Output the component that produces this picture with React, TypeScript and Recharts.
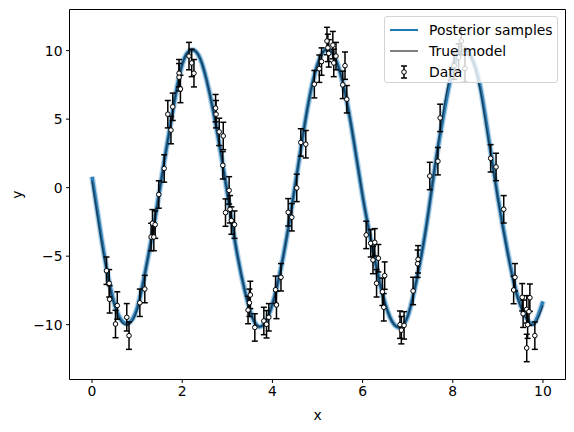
import React from "react";
import {
    ComposedChart,
    Line,
    Scatter,
    ErrorBar,
    XAxis,
    YAxis,
} from "recharts";

// curve grid (x) and the two model curves
const gridX = [
    0, 0.2, 0.4, 0.6, 0.8, 1, 1.2, 1.4, 1.6, 1.8, 2, 2.2, 2.4, 2.6, 2.8, 3, 3.2,
    3.4, 3.6, 3.8, 4, 4.2, 4.4, 4.6, 4.8, 5, 5.2, 5.4, 5.6, 5.8, 6, 6.2, 6.4,
    6.6, 6.8, 7, 7.2, 7.4, 7.6, 7.8, 8, 8.2, 8.4, 8.6, 8.8, 9, 9.2, 9.4, 9.6,
    9.8, 10,
];
const posteriorY = [
    0.8, -3.5, -7.2, -9.4, -9.9, -8.8, -5.8, -2.2, 1.9, 5.8, 9.0, 10.05, 9.4,
    7.0, 3.6, -0.4, -4.5, -7.7, -9.8, -10.0, -8.5, -5.7, -2.0, 2.2, 6.2, 9.0,
    10.1, 9.4, 7.1, 3.5, -0.6, -4.1, -7.2, -9.4, -10.2, -9.4, -6.7, -3.1, 1.4,
    5.4, 8.6, 9.95, 9.6, 7.5, 3.5, -0.7, -4.4, -7.5, -9.3, -9.9, -8.3,
];
const trueY = [
    0.5, -3.7, -7.3, -9.5, -10.0, -8.9, -5.8, -2.2, 1.9, 5.8, 9.0, 10.05, 9.4,
    7.0, 3.6, -0.4, -4.5, -7.7, -9.8, -10.0, -8.5, -5.7, -2.0, 2.2, 6.2, 9.0,
    10.1, 9.4, 7.1, 3.5, -0.6, -4.1, -7.2, -9.4, -10.2, -9.4, -6.7, -3.1, 1.5,
    5.7, 9.1, 10.35, 9.6, 7.3, 3.3, -0.8, -4.5, -7.6, -9.4, -10.0, -8.6,
];

// observations
const dataX = [
    0.32, 0.38, 0.39, 0.52, 0.56, 0.77, 0.82, 1.06, 1.17, 1.31, 1.34, 1.37, 1.4,
    1.48, 1.6, 1.68, 1.75, 1.79, 1.93, 1.93, 1.96, 2.15, 2.21, 2.26, 2.74, 2.75,
    2.82, 2.9, 2.91, 2.96, 3.04, 3.06, 3.09, 3.16, 3.46, 3.49, 3.51, 3.61, 3.81,
    3.87, 3.92, 4.07, 4.09, 4.19, 4.35, 4.43, 4.54, 4.63, 4.74, 4.93, 5.04, 5.09,
    5.21, 5.23, 5.25, 5.34, 5.36, 5.41, 5.56, 5.61, 5.65, 6.08, 6.18, 6.23, 6.27,
    6.31, 6.35, 6.44, 6.47, 6.49, 6.83, 6.86, 6.92, 7.12, 7.22, 7.23, 7.49, 7.67,
    7.72, 8.03, 8.13, 8.19, 8.27, 8.84, 8.96, 9.13, 9.35, 9.38, 9.54, 9.56, 9.64,
    9.64, 9.66, 9.69, 9.71, 9.82,
];
const dataY = [
    -6.06, -6.98, -8.15, -9.95, -8.6, -9.46, -10.8, -8.4, -7.4, -3.6, -2.6, -3.6,
    -2.7, -0.5, 1.4, 5.36, 4.2, 5.9, 8.35, 8.06, 7.2, 9.6, 9.1, 8.35, 5.8, 5.36,
    4.07, 1.63, 3.77, -1.82, -0.2, -1.58, -2.4, -2.7, -8.93, -8.4, -7.83, -10.2,
    -9.73, -9.97, -9.46, -7.45, -8.56, -6.54, -1.8, -2.16, -0.02, 3.3, 3.17, 7.55,
    8.68, 9.2, 10.7, 10.2, 9.8, 10.4, 9.1, 9.6, 7.5, 8.9, 6.45, -3.45, -4.06,
    -5.28, -3.99, -6.98, -5.15, -7.6, -8.73, -6.42, -10.0, -10.4, -10.05, -7.54,
    -5.55, -5.23, 0.85, 1.93, 5.09, 8.9, 9.5, 10.7, 8.7, 2.14, 1.51, -1.58,
    -7.47, -6.54, -8.0, -9.2, -8.88, -11.7, -10.0, -9.05, -8.03, -10.8,
];
const dataErr = 1.0;

const xTicks = [0, 2, 4, 6, 8, 10];
const yTicks = [-10, -5, 0, 5, 10];
const legendItems = ["Posterior samples", "True model", "Data"];

const posterior = gridX.map((x, i) => ({ x, y: posteriorY[i] }));
const truth = gridX.map((x, i) => ({ x, y: trueY[i] }));
const observed = dataX.map((x, i) => ({ x, y: dataY[i], err: dataErr }));

const FONT = "'DejaVu Sans', sans-serif";
const BLUE = "#1f77b4";
const X_DOMAIN: [number, number] = [-0.5, 10.5];
const Y_DOMAIN: [number, number] = [-14, 13];
const tickStyle = { fill: "#000", fontSize: 13.9, fontFamily: FONT };
const fmt = (v: number) => String(v).replace("-", "\u2212");

const Dot = (props: any) => (
    <circle cx={props.cx} cy={props.cy} r={2.3} fill="#fff" stroke="#000" strokeWidth={1} />
);

const LegendBox = () => (
    <div
        style={{
            position: "absolute",
            left: 384,
            top: 16,
            width: 174,
            height: 67,
            boxSizing: "border-box",
            border: "1px solid #d4d4d4",
            borderRadius: 3,
            background: "rgba(255,255,255,0.8)",
            fontFamily: FONT,
            fontSize: 13.9,
            color: "#000",
            padding: "2px 0 0 4px",
        }}
    >
        {legendItems.map((name, i) => (
            <div key={name} style={{ display: "flex", alignItems: "center", height: 21 }}>
                <svg width={30} height={16} style={{ marginRight: 10 }}>
                    {i === 2 ? (
                        <g stroke="#000" strokeWidth={1.5}>
                            <line x1={15} x2={15} y1={2} y2={14} />
                            <line x1={12} x2={18} y1={2} y2={2} />
                            <line x1={12} x2={18} y1={14} y2={14} />
                            <circle cx={15} cy={8} r={2.3} fill="#fff" strokeWidth={1} />
                        </g>
                    ) : (
                        <line
                            x1={1}
                            x2={29}
                            y1={8}
                            y2={8}
                            stroke={i === 0 ? BLUE : "#808080"}
                            strokeWidth={2}
                        />
                    )}
                </svg>
                <span>{name}</span>
            </div>
        ))}
    </div>
);

const YLabel = (props: any) => {
    const vb = props.viewBox;
    const cy = vb.y + vb.height / 2;
    return (
        <text
            x={17}
            y={cy}
            transform={`rotate(-90 17 ${cy})`}
            textAnchor="middle"
            dominantBaseline="central"
            style={tickStyle}
        >
            y
        </text>
    );
};

export default function App() {
    return (
        <div style={{ position: "relative", width: 574, height: 432, background: "#fff" }}>
            <style>{"body{margin:0}"}</style>
            <ComposedChart
                width={574}
                height={432}
                margin={{ top: 8.5, right: 7.5, bottom: 0, left: 0 }}
            >
                <XAxis
                    dataKey="x"
                    type="number"
                    domain={X_DOMAIN}
                    ticks={xTicks}
                    allowDataOverflow
                    height={52.5}
                    tick={tickStyle}
                    tickFormatter={fmt}
                    tickSize={3.5}
                    tickMargin={3.5}
                    axisLine={{ stroke: "#000" }}
                    tickLine={{ stroke: "#000" }}
                    label={{
                        value: "x",
                        position: "insideBottom",
                        offset: 12,
                        style: tickStyle,
                    }}
                />
                <XAxis
                    xAxisId="top"
                    dataKey="x"
                    orientation="top"
                    type="number"
                    domain={X_DOMAIN}
                    allowDataOverflow
                    height={1}
                    ticks={[]}
                    tick={false}
                    tickLine={false}
                    axisLine={{ stroke: "#000" }}
                />
                <YAxis
                    dataKey="y"
                    type="number"
                    domain={Y_DOMAIN}
                    ticks={yTicks}
                    allowDataOverflow
                    width={69.5}
                    tick={tickStyle}
                    tickFormatter={fmt}
                    tickSize={3.5}
                    tickMargin={3.5}
                    axisLine={{ stroke: "#000" }}
                    tickLine={{ stroke: "#000" }}
                    label={<YLabel />}
                />
                <YAxis
                    yAxisId="right"
                    dataKey="y"
                    orientation="right"
                    type="number"
                    domain={Y_DOMAIN}
                    allowDataOverflow
                    width={1}
                    ticks={[]}
                    tick={false}
                    tickLine={false}
                    axisLine={{ stroke: "#000" }}
                />
                <Line
                    data={posterior}
                    dataKey="y"
                    type="natural"
                    stroke={BLUE}
                    strokeOpacity={0.3}
                    strokeWidth={6}
                    dot={false}
                    isAnimationActive={false}
                />
                <Line
                    data={posterior}
                    dataKey="y"
                    type="natural"
                    stroke={BLUE}
                    strokeOpacity={0.9}
                    strokeWidth={3.5}
                    dot={false}
                    isAnimationActive={false}
                />
                <Line
                    data={truth}
                    dataKey="y"
                    xAxisId="top"
                    yAxisId="right"
                    type="natural"
                    stroke="#000"
                    strokeOpacity={0.5}
                    strokeWidth={1.5}
                    dot={false}
                    isAnimationActive={false}
                />
                <Scatter data={observed} shape={Dot} isAnimationActive={false}>
                    <ErrorBar
                        dataKey="err"
                        direction="y"
                        width={3}
                        stroke="#000"
                        strokeWidth={1.5}
                        isAnimationActive={false}
                    />
                </Scatter>
            </ComposedChart>
            <LegendBox />
        </div>
    );
}
